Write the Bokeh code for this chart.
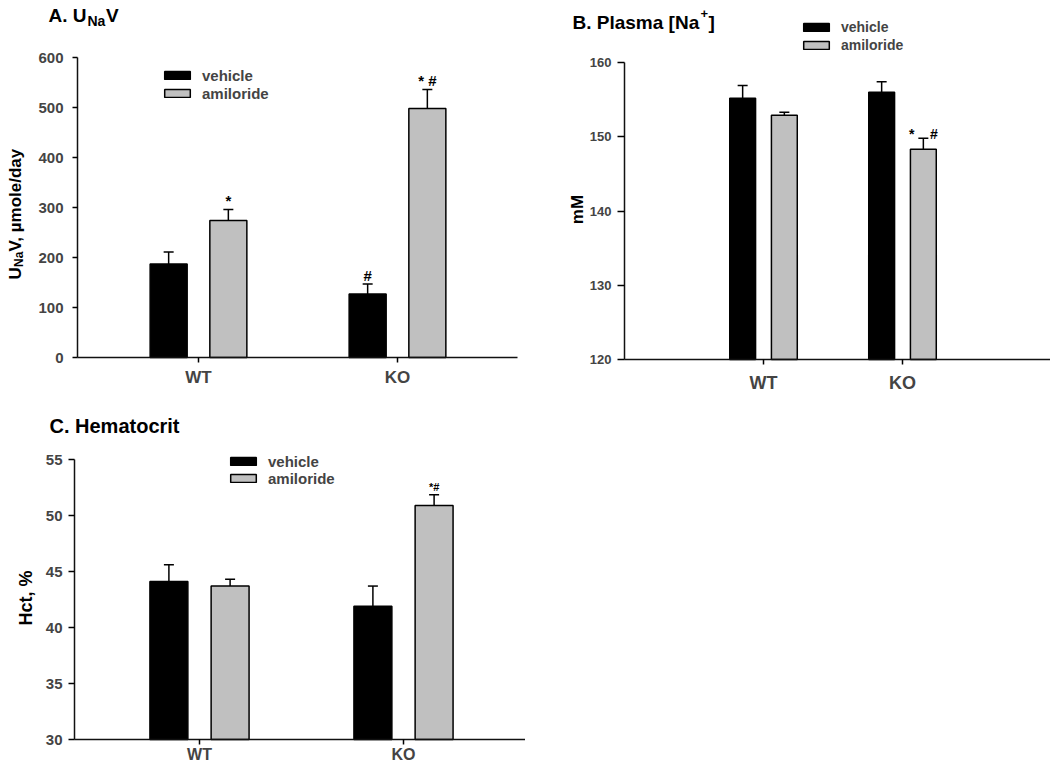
import math
from bokeh.plotting import figure
from bokeh.models import (ColumnDataSource, Whisker, TeeHead, Legend, LegendItem,
                          Label, FixedTicker, Range1d)
from bokeh.layouts import column, row
from bokeh.embed import file_html
from bokeh.resources import INLINE
from bokeh.core.properties import value

# ---------------- data ----------------
groups = ["WT", "KO"]
treatments = ["vehicle", "amiloride"]

# A. UNaV (umole/day)
una_ticks = [0, 100, 200, 300, 400, 500, 600]
una_vehicle = [187, 127]
una_vehicle_err = [24, 20]
una_amiloride = [274, 498]
una_amiloride_err = [22, 38]
una_vehicle_marks = ["", "#"]
una_amiloride_marks = ["*", "*\u00a0#"]

# B. Plasma [Na+] (mM)
na_ticks = [120, 130, 140, 150, 160]
na_vehicle = [155.2, 156.0]
na_vehicle_err = [1.7, 1.4]
na_amiloride = [152.9, 148.3]
na_amiloride_err = [0.4, 1.5]
na_vehicle_marks = ["", ""]
na_amiloride_marks = ["", "*\u00a0\u00a0\u00a0\u00a0#"]

# C. Hematocrit (%)
hct_ticks = [30, 35, 40, 45, 50, 55]
hct_vehicle = [44.1, 41.9]
hct_vehicle_err = [1.5, 1.8]
hct_amiloride = [43.7, 50.9]
hct_amiloride_err = [0.6, 0.95]
hct_vehicle_marks = ["", ""]
hct_amiloride_marks = ["", "*#"]

FONT = "Liberation Sans"
GRAY = "#c0c0c0"
BAR_W = 0.186
OFFSET = 0.15
xs = [i + 1 for i in range(len(groups))]
ROW1_H = 398


def lin(p0, v0, p1, v1, p):
    return v0 + (p - p0) * (v1 - v0) / (p1 - p0)


def make_fig(ox, oy, w, h, x_px, y_px, y_vals, axis_left, axis_right):
    """ox, oy: page position of the figure; x_px: page x of the two groups;
    y_px: page y of the lowest and highest y tick."""
    x_start = lin(x_px[0], xs[0], x_px[1], xs[1], ox)
    x_end = lin(x_px[0], xs[0], x_px[1], xs[1], ox + w)
    y_start = lin(y_px[0], y_vals[0], y_px[1], y_vals[-1], oy + h)
    y_end = lin(y_px[0], y_vals[0], y_px[1], y_vals[-1], oy)
    p = figure(width=w, height=h, x_range=Range1d(x_start, x_end),
               y_range=Range1d(y_start, y_end),
               output_backend="svg", toolbar_location=None, tools="")
    p.min_border = 0
    p.min_border_left = p.min_border_right = p.min_border_top = p.min_border_bottom = 0
    p.outline_line_color = None
    p.xgrid.grid_line_color = None
    p.ygrid.grid_line_color = None
    p.background_fill_color = "white"
    p.border_fill_color = "white"
    xl = lin(x_px[0], xs[0], x_px[1], xs[1], axis_left)
    xr = lin(x_px[0], xs[0], x_px[1], xs[1], axis_right)
    p.xaxis.fixed_location = y_vals[0]
    p.xaxis.bounds = (xl, xr)
    p.yaxis.fixed_location = xl
    p.yaxis.bounds = (y_vals[0], y_vals[-1])
    p._ox, p._oy, p._h = ox, oy, h
    return p


def draw_groups(p, veh, veh_err, amil, amil_err, base, marks_v, marks_a, mark_size, mark_off):
    xv = [x - OFFSET for x in xs]
    xa = [x + OFFSET for x in xs]
    rv = p.vbar(x=xv, top=veh, bottom=base, width=BAR_W, fill_color="black",
                line_color="black", line_width=1.5)
    ra = p.vbar(x=xa, top=amil, bottom=base, width=BAR_W, fill_color=GRAY,
                line_color="black", line_width=1.5)
    ups = []
    for xx, v, e in ((xv, veh, veh_err), (xa, amil, amil_err)):
        up = [a + b for a, b in zip(v, e)]
        ups.append(up)
        src = ColumnDataSource(dict(x=xx, lower=v, upper=up))
        p.add_layout(Whisker(source=src, base="x", lower="lower", upper="upper",
                             dimension="height", line_width=1.5, line_color="black",
                             upper_head=TeeHead(size=10, line_width=1.5, line_color="black"),
                             lower_head=None, level="annotation"))
    msrc = ColumnDataSource(dict(x=xv + xa, y=ups[0] + ups[1], t=marks_v + marks_a))
    p.text(x="x", y="y", text="t", source=msrc, y_offset=-mark_off, text_align="center",
           text_baseline="alphabetic", text_font=value(FONT), text_font_style="bold",
           text_font_size=value(mark_size), text_color="black")
    return rv, ra


def style_axes(p, ticks, ylab_size, xlab_size, y_out, y_standoff, x_standoff=5):
    xa = p.xaxis[0]
    xa.ticker = FixedTicker(ticks=xs)
    xa.major_label_overrides = {x: g for x, g in zip(xs, groups)}
    xa.minor_tick_line_color = None
    xa.major_tick_in = 0
    xa.major_tick_out = 5
    xa.major_tick_line_width = 1.5
    xa.axis_line_width = 1.5
    xa.axis_line_color = "#111111"
    xa.major_label_text_font = FONT
    xa.major_label_text_font_style = "bold"
    xa.major_label_text_font_size = xlab_size
    xa.major_label_standoff = x_standoff
    ya = p.yaxis[0]
    ya.ticker = FixedTicker(ticks=ticks)
    ya.minor_tick_line_color = None
    ya.major_tick_in = 0
    ya.major_tick_out = y_out
    ya.major_tick_line_width = 1.5
    ya.axis_line_width = 1.5
    ya.axis_line_color = "#111111"
    ya.major_label_text_font = FONT
    ya.major_label_text_font_style = "bold"
    ya.major_label_text_font_size = ylab_size
    ya.major_label_standoff = y_standoff


def add_legend(p, rv, ra, page_x, page_top, size, row_h):
    lx = page_x - p._ox - 3
    ly = p._h - (page_top - p._oy) - 2 * row_h
    lg = Legend(items=[LegendItem(label=treatments[0], renderers=[rv]),
                       LegendItem(label=treatments[1], renderers=[ra])],
                location=(lx, ly), orientation="vertical", glyph_width=32, glyph_height=10,
                label_height=row_h, label_standoff=9, spacing=0, padding=0, margin=0,
                border_line_color=None, background_fill_alpha=0,
                label_text_font=FONT, label_text_font_style="bold",
                label_text_font_size=size)
    p.add_layout(lg)


def txt(p, X, Y, text, size, angle=0.0, align="left"):
    p.add_layout(Label(x=X - p._ox, y=p._h - (Y - p._oy), x_units="screen", y_units="screen",
                       text=text, text_font=FONT, text_font_style="bold",
                       text_font_size=size, text_align=align, text_baseline="alphabetic",
                       angle=angle, text_color="black"))


ROT = math.pi / 2

# ---------------- Panel A ----------------
pA = make_fig(0, 0, 525, ROW1_H, (198, 397), (357, 57), una_ticks, 77, 517)
rv, ra = draw_groups(pA, una_vehicle, una_vehicle_err, una_amiloride, una_amiloride_err,
                     una_ticks[0], una_vehicle_marks, una_amiloride_marks, "15px", 9)
style_axes(pA, una_ticks, "15px", "17px", 5, 9)
add_legend(pA, rv, ra, 164, 66, "15px", 18)
txt(pA, 48, 15, "A. U", "19px")
txt(pA, 87, 20, "Na", "14px")
txt(pA, 105.5, 15, "V", "19px")
txt(pA, 15, 279, "U", "17px", ROT)
txt(pA, 18, 266.5, "Na", "12px", ROT)
txt(pA, 15, 251, "V, µmole/day", "17px", ROT)

# ---------------- Panel B ----------------
pB = make_fig(525, 0, 525, ROW1_H, (763, 902), (359, 62), na_ticks, 624, 1050)
rv, ra = draw_groups(pB, na_vehicle, na_vehicle_err, na_amiloride, na_amiloride_err,
                     na_ticks[0], na_vehicle_marks, na_amiloride_marks, "14px", 4)
style_axes(pB, na_ticks, "13px", "18px", 7, 6, 8)
add_legend(pB, rv, ra, 803, 17.5, "14px", 18)
txt(pB, 572, 22, "B. Plasma [Na", "19px")
txt(pB, 700, 13, "+", "13px")
txt(pB, 708, 22, "]", "19px")
txt(pB, 577, 209, "mM", "17px", ROT, "center")

# ---------------- Panel C ----------------
pC = make_fig(0, ROW1_H, 525, 766 - ROW1_H, (199, 403), (739, 459), hct_ticks, 74, 527)
rv, ra = draw_groups(pC, hct_vehicle, hct_vehicle_err, hct_amiloride, hct_amiloride_err,
                     hct_ticks[0], hct_vehicle_marks, hct_amiloride_marks, "11px", 8)
style_axes(pC, hct_ticks, "15px", "16px", 6, 6, 1)
add_legend(pC, rv, ra, 230, 452.5, "15px", 17)
txt(pC, 49, 425, "C. Hematocrit", "20px")
txt(pC, 25, 597.5, "Hct, %", "18px", ROT, "center")

layout = column(row(pA, pB), pC)
open("out.html", "w").write(file_html(layout, INLINE))
